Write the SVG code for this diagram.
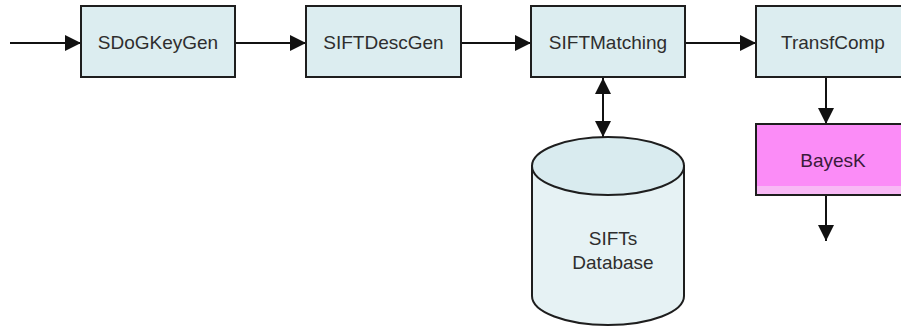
<svg xmlns="http://www.w3.org/2000/svg" width="901" height="326" viewBox="0 0 901 326">
  <style>
    .box { fill: #dcedf0; stroke: #1e1e1e; stroke-width: 2; }
    .label { font-family: "Liberation Sans", Arial, sans-serif; font-size: 19px; fill: #2e2e2e; text-anchor: middle; }
    .edge { stroke: #111; stroke-width: 2; fill: none; }
  </style>
  <defs>
    <marker id="head" markerUnits="userSpaceOnUse" markerWidth="16" markerHeight="16" refX="16" refY="8" orient="auto-start-reverse" viewBox="0 0 16 16">
      <path d="M0,0 L16,8 L0,16 Z" fill="#111"/>
    </marker>
  </defs>

  <rect width="901" height="326" fill="#ffffff"/>

  <g id="connectors">
    <line class="edge" x1="10" y1="43" x2="81" y2="43" marker-end="url(#head)"/>
    <line class="edge" x1="235" y1="43" x2="306" y2="43" marker-end="url(#head)"/>
    <line class="edge" x1="461" y1="43" x2="531" y2="43" marker-end="url(#head)"/>
    <line class="edge" x1="685" y1="43" x2="756" y2="43" marker-end="url(#head)"/>
    <line class="edge" x1="603" y1="78" x2="603" y2="137" marker-start="url(#head)" marker-end="url(#head)"/>
    <line class="edge" x1="826" y1="78" x2="826" y2="124" marker-end="url(#head)"/>
    <line class="edge" x1="826" y1="196" x2="826" y2="241" marker-end="url(#head)"/>
  </g>

  <g id="SDoGKeyGen">
    <rect class="box" x="81" y="6" width="154" height="71"/>
    <text class="label" x="158" y="49">SDoGKeyGen</text>
  </g>

  <g id="SIFTDescGen">
    <rect class="box" x="306" y="6" width="155" height="71"/>
    <text class="label" x="383.5" y="49">SIFTDescGen</text>
  </g>

  <g id="SIFTMatching">
    <rect class="box" x="531" y="6" width="154" height="71"/>
    <text class="label" x="608" y="49">SIFTMatching</text>
  </g>

  <g id="TransfComp">
    <rect class="box" x="756" y="6" width="155" height="71"/>
    <text class="label" x="833" y="49">TransfComp</text>
  </g>

  <g id="BayesK">
    <rect x="756" y="124" width="155" height="71" fill="#fb8cf7"/>
    <rect x="757" y="186" width="154" height="8" fill="#f8b9f5"/>
    <rect x="756" y="124" width="155" height="71" fill="none" stroke="#1e1e1e" stroke-width="2"/>
    <text class="label" x="833" y="167" fill="#3a1a3a" style="fill:#3a1a3a">BayesK</text>
  </g>

  <g id="SIFTsDatabase">
    <path d="M532,166 L532,296 A76,29 0 0 0 684,296 L684,166 Z" fill="#e6f2f4" stroke="#1e1e1e" stroke-width="2"/>
    <ellipse cx="608" cy="166" rx="76" ry="29" fill="#d9ebef" stroke="#1e1e1e" stroke-width="2"/>
    <text class="label" x="613" y="245">SIFTs</text>
    <text class="label" x="613" y="269">Database</text>
  </g>
</svg>
